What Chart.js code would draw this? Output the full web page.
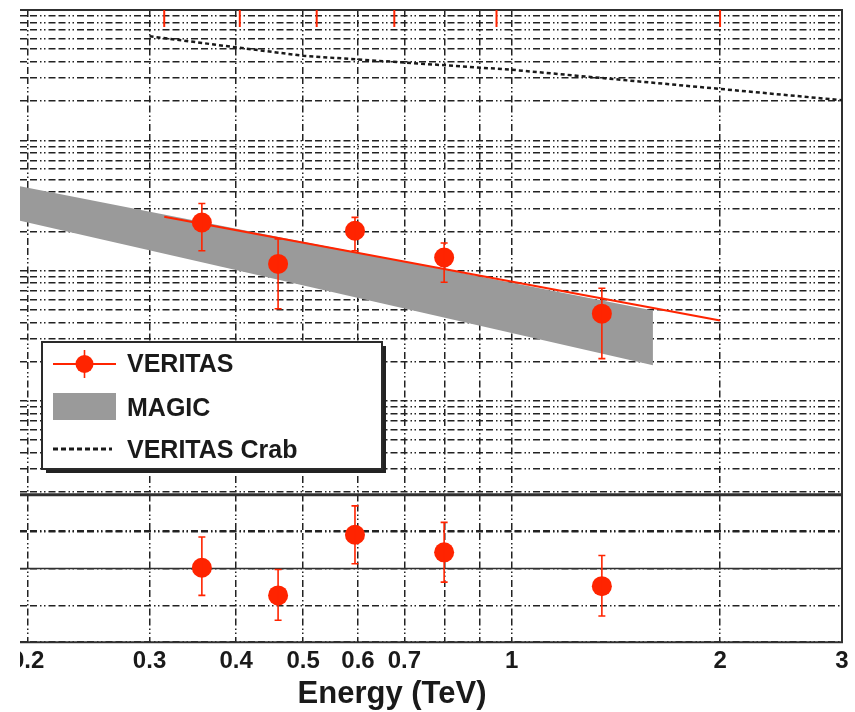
<!DOCTYPE html>
<html>
<head>
<meta charset="utf-8">
<script src="https://cdn.jsdelivr.net/npm/chart.js@4"></script>
<style>
  html, body { margin: 0; padding: 0; background: #fff; }
</style>
</head>
<body>
<canvas id="myChart" width="855" height="712"></canvas>
<script>
// VERITAS spectral points (E^2 dN/dE, TeV m^-2 s^-1)
var energies = [0.357, 0.46, 0.594, 0.799, 1.35];
var flux     = [2.34e-8, 1.125e-8, 2.02e-8, 1.26e-8, 4.67e-9];
var fluxHi   = [3.27e-8, 1.75e-8, 2.56e-8, 1.63e-8, 7.32e-9];
var fluxLo   = [1.42e-8, 5.09e-9, 1.42e-8, 8.14e-9, 2.11e-9];

// residuals, bottom panel
var resid   = [0.01, -0.365, 0.459, 0.22, -0.239];
var residHi = [0.428, -0.014, 0.851, 0.626, 0.176];
var residLo = [-0.365, -0.703, 0.064, -0.185, -0.645];

// VERITAS power law fit
var fitE    = [0.315, 2.0];
var fitFlux = [2.59e-8, 4.14e-9];

// MAGIC band
var bandE  = [0.193, 1.6];
var bandHi = [4.48e-8, 4.94e-9];
var bandLo = [2.44e-8, 1.88e-9];

// VERITAS Crab
var crabE    = [0.3, 0.5, 1, 2, 3];
var crabFlux = [6.28e-7, 4.45e-7, 3.48e-7, 2.48e-7, 2.03e-7];

// energy bin edges (red marks on the top axis)
var binEdges = [0.315, 0.405, 0.523, 0.677, 0.951, 2.0];

// axis ticks
var xTicks  = [0.2, 0.3, 0.4, 0.5, 0.6, 0.7, 0.8, 0.9, 1, 2, 3];
var xLabels = [0.2, 0.3, 0.4, 0.5, 0.6, 0.7, 1, 2, 3];
var yGrid = [];
for (var k = -10; k <= -7; k++) {
    for (var m = 1; m <= 9; m++) yGrid.push(m * Math.pow(10, k));
}
yGrid.push(1e-6);

const RED = '#ff2400';
const GRAY = '#9a9a9a';
const INK = '#1a1a1a';
const FONT = '"Liberation Sans", Arial, Helvetica, sans-serif';
const DASH = [7, 3, 7, 3, 1.5, 2.5, 1.5, 3];
const GRID = '#222';

function xy(xs, ys) {
    return xs.map(function (x, i) { return {x: x, y: ys[i]}; });
}

// frame, panel separator and zero line of the residual panel
const frame = {
    id: 'frame',
    beforeDatasetsDraw(chart) {
        const a = chart.chartArea, c = chart.ctx;
        c.save();
        c.strokeStyle = '#303030';
        c.lineWidth = 2;
        c.beginPath();
        c.moveTo(a.left, a.top); c.lineTo(a.right, a.top); c.lineTo(a.right, a.bottom); c.lineTo(a.left, a.bottom);
        c.stroke();
        c.lineWidth = 3;
        c.beginPath();
        c.moveTo(a.left, chart.scales.y.bottom); c.lineTo(a.right, chart.scales.y.bottom);
        c.stroke();
        const z = chart.scales.yres.getPixelForValue(0);
        c.lineWidth = 1.6;
        c.beginPath();
        c.moveTo(a.left, z); c.lineTo(a.right, z);
        c.stroke();
        // bin edges along the top axis
        c.strokeStyle = RED;
        c.lineWidth = 2;
        binEdges.forEach(function (e) {
            const px = chart.scales.x.getPixelForValue(e);
            c.beginPath(); c.moveTo(px, a.top); c.lineTo(px, a.top + 17); c.stroke();
        });
        c.restore();
    }
};

const errorBars = {
    id: 'errorBars',
    afterDatasetsDraw(chart) {
        const c = chart.ctx;
        chart.data.datasets.forEach(function (ds, i) {
            if (!ds.errLo) return;
            const meta = chart.getDatasetMeta(i);
            const ys = chart.scales[meta.yAxisID];
            c.save();
            c.strokeStyle = ds.pointBackgroundColor;
            c.lineWidth = 1.6;
            meta.data.forEach(function (pt, j) {
                const yl = ys.getPixelForValue(ds.errLo[j]);
                const yh = ys.getPixelForValue(ds.errHi[j]);
                c.beginPath();
                c.moveTo(pt.x, yl); c.lineTo(pt.x, yh);
                c.moveTo(pt.x - 3.5, yl); c.lineTo(pt.x + 3.5, yl);
                c.moveTo(pt.x - 3.5, yh); c.lineTo(pt.x + 3.5, yh);
                c.stroke();
            });
            c.restore();
        });
    }
};

// legend box, axis title and the cropped left edge
const decor = {
    id: 'decor',
    afterDraw(chart) {
        const a = chart.chartArea, c = chart.ctx;
        c.save();
        c.fillStyle = '#fff';
        c.fillRect(0, 0, a.left, chart.height);

        c.fillStyle = INK;
        c.font = 'bold 31px ' + FONT;
        c.textAlign = 'center';
        c.textBaseline = 'middle';
        c.fillText('Energy (TeV)', a.left + 372, 694);

        const L = a.left + 22, T = a.top + 332, W = 340, H = 127;
        c.fillStyle = '#222';
        c.fillRect(L + 4, T + 4, W, H);
        c.fillStyle = '#fff';
        c.fillRect(L, T, W, H);
        c.strokeStyle = '#2a2a2a';
        c.lineWidth = 2;
        c.strokeRect(L, T, W, H);

        // VERITAS
        c.strokeStyle = RED; c.fillStyle = RED;
        c.lineWidth = 2;
        c.beginPath(); c.moveTo(L + 11, T + 22); c.lineTo(L + 74, T + 22); c.stroke();
        c.lineWidth = 1.6;
        c.beginPath(); c.moveTo(L + 42.5, T + 8); c.lineTo(L + 42.5, T + 36); c.stroke();
        c.beginPath(); c.arc(L + 42.5, T + 22, 9, 0, Math.PI * 2); c.fill();
        // MAGIC
        c.fillStyle = GRAY;
        c.fillRect(L + 11, T + 51, 63, 27);
        // Crab
        c.strokeStyle = '#1a1a1a';
        c.lineWidth = 3;
        c.setLineDash([5, 3]);
        c.beginPath(); c.moveTo(L + 11, T + 107); c.lineTo(L + 70, T + 107); c.stroke();
        c.setLineDash([]);

        c.fillStyle = INK;
        c.font = 'bold 25px ' + FONT;
        c.textAlign = 'left';
        c.fillText('VERITAS', L + 85, T + 23);
        c.fillText('MAGIC', L + 85, T + 67);
        c.fillText('VERITAS Crab', L + 85, T + 109);
        c.restore();
    }
};

const ctx = document.getElementById('myChart');

const chart = new Chart(ctx, {
    type: 'line',
    data: {
        datasets: [
            {
                label: 'VERITAS',
                data: xy(energies, flux),
                errLo: fluxLo, errHi: fluxHi,
                yAxisID: 'y',
                showLine: false,
                pointRadius: 10,
                pointBorderWidth: 0,
                pointBackgroundColor: RED,
                order: 0
            },
            {
                label: 'VERITAS residuals',
                data: xy(energies, resid),
                errLo: residLo, errHi: residHi,
                yAxisID: 'yres',
                showLine: false,
                pointRadius: 10,
                pointBorderWidth: 0,
                pointBackgroundColor: RED,
                order: 0
            },
            {
                label: 'VERITAS fit',
                data: xy(fitE, fitFlux),
                yAxisID: 'y',
                borderColor: RED,
                borderWidth: 2.2,
                pointRadius: 0,
                order: 1
            },
            {
                label: 'VERITAS Crab',
                data: xy(crabE, crabFlux),
                yAxisID: 'y',
                borderColor: '#1a1a1a',
                borderWidth: 2.5,
                borderDash: [4, 3],
                pointRadius: 0,
                order: 2
            },
            {
                label: 'MAGIC',
                data: xy(bandE, bandHi),
                yAxisID: 'y',
                borderWidth: 0,
                pointRadius: 0,
                backgroundColor: GRAY,
                fill: '+1',
                order: 3
            },
            {
                label: 'MAGIC low',
                data: xy(bandE, bandLo),
                yAxisID: 'y',
                borderWidth: 0,
                pointRadius: 0,
                fill: false,
                order: 4
            }
        ]
    },
    options: {
        responsive: false,
        animation: false,
        layout: { padding: { left: 20, top: 8, right: 13, bottom: 31 } },
        plugins: {
            legend: { display: false },
            tooltip: { enabled: false }
        },
        scales: {
            x: {
                type: 'logarithmic',
                min: 0.195,
                max: 3,
                afterBuildTicks: function (s) { s.ticks = xTicks.map(function (v) { return {value: v}; }); },
                ticks: {
                    autoSkip: false,
                    maxRotation: 0,
                    padding: 5,
                    color: INK,
                    font: { family: FONT, size: 24, weight: 'bold' },
                    callback: function (v) { return xLabels.indexOf(v) >= 0 ? String(v) : ''; }
                },
                grid: { color: GRID, lineWidth: 1.5, drawTicks: false },
                border: { display: false, dash: DASH }
            },
            yres: {
                type: 'linear',
                position: 'left',
                stack: 'panels',
                stackWeight: 148,
                weight: 0,
                min: -1,
                max: 1,
                ticks: { display: false, stepSize: 0.5 },
                grid: { color: GRID, lineWidth: 1.5, drawTicks: false },
                border: { display: false, dash: DASH }
            },
            y: {
                type: 'logarithmic',
                position: 'left',
                stack: 'panels',
                stackWeight: 487,
                weight: 1,
                min: 1.9e-10,
                max: 1e-6,
                afterBuildTicks: function (s) { s.ticks = yGrid.map(function (v) { return {value: v}; }); },
                ticks: { display: false },
                grid: { color: GRID, lineWidth: 1.5, drawTicks: false },
                border: { display: false, dash: DASH }
            }
        }
    },
    plugins: [frame, errorBars, decor]
});
</script>
</body>
</html>
